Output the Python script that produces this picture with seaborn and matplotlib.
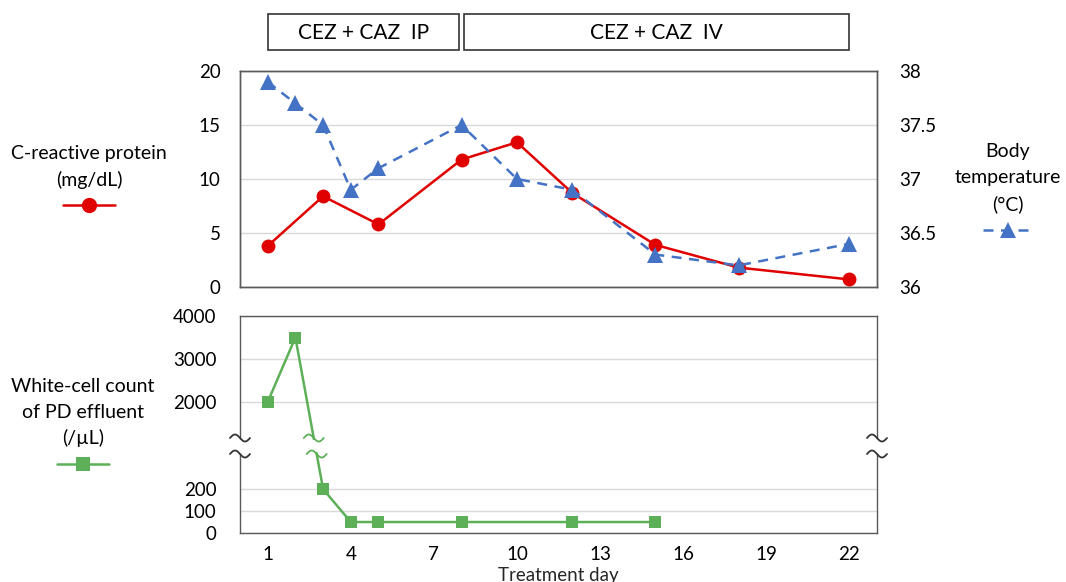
import matplotlib
matplotlib.use("Agg")
import matplotlib.pyplot as plt
import matplotlib.transforms as mtransforms
from matplotlib.lines import Line2D
from matplotlib.patches import Rectangle
import numpy as np
import pandas as pd
import seaborn as sns

# values
crp_days = [1, 3, 5, 8, 10, 12, 15, 18, 22]
crp_values = [3.8, 8.4, 5.8, 11.8, 13.4, 8.7, 3.9, 1.8, 0.7]

temp_days = [1, 2, 3, 4, 5, 8, 10, 12, 15, 18, 22]
temp_values = [37.9, 37.7, 37.5, 36.9, 37.1, 37.5, 37.0, 36.9, 36.3, 36.2, 36.4]

wbc_days = [1, 2, 3, 4, 5, 8, 12, 15]
wbc_values = [2000, 3500, 200, 50, 50, 50, 50, 50]

x_labels = [1, 4, 7, 10, 13, 16, 19, 22]
therapy_labels = ["CEZ + CAZ  IP", "CEZ + CAZ  IV"]
therapy_spans = [(1, 7.9), (8.1, 22)]

RED = "#E00000"
BLUE = "#4472C4"
GREEN = "#5DB058"
SPINE = "#595959"
GRID = "#D9D9D9"

sns.set_style("white")
plt.rcParams["font.family"] = ["Lato", "DejaVu Sans"]
plt.rcParams["font.size"] = 13
plt.rcParams["text.color"] = "black"
plt.rcParams["xtick.color"] = "black"
plt.rcParams["ytick.color"] = "black"

W, H = 1066, 582
fig = plt.figure(figsize=(W / 100, H / 100), dpi=100)


def box(top, bottom):
    return [240 / W, 1 - bottom / H, (877 - 240) / W, (bottom - top) / H]


ax = fig.add_axes(box(71, 287))
ax_hi = fig.add_axes(box(316, 438))
ax_lo = fig.add_axes(box(454, 533))
# one axis over the whole broken panel, so the line runs straight across the gap
ax_w = fig.add_axes(box(316, 533))

crp = pd.DataFrame({"day": crp_days, "crp": crp_values})
temp = pd.DataFrame({"day": temp_days, "temp": temp_values})
wbc = pd.DataFrame({"day": wbc_days, "wbc": wbc_values})

# top panel
sns.lineplot(data=crp, x="day", y="crp", ax=ax, color=RED, marker="o",
             markersize=10, markeredgewidth=0, linewidth=1.8, zorder=3)
ax2 = ax.twinx()
ax2.set_position(ax.get_position())
sns.lineplot(data=temp, x="day", y="temp", ax=ax2, color=BLUE, marker="^",
             markersize=11, markeredgewidth=0, linewidth=1.8,
             linestyle=(0, (4, 3)), zorder=3)

ax.set_ylim(0, 20)
ax.set_yticks([0, 5, 10, 15, 20])
ax2.set_ylim(36, 38)
ax2.set_yticks([36, 36.5, 37, 37.5, 38])
ax2.set_yticklabels(["36", "36.5", "37", "37.5", "38"])

# bottom panel (broken axis): two frames for grid / ticks
lo_top, hi_bot = 360, 1163
ax_hi.set_ylim(hi_bot, 4000)
ax_hi.set_yticks([2000, 3000, 4000])
ax_lo.set_ylim(0, lo_top)
ax_lo.set_yticks([0, 100, 200])

# piecewise scale: 0..360 -> 0..79 px, gap 16 px, 1163..4000 -> 95..217 px
brk_v = [0, lo_top, hi_bot, 4000]
brk_p = [0, 79, 95, 217]


def fwd(v):
    return np.interp(v, brk_v, brk_p)


def inv(p):
    return np.interp(p, brk_p, brk_v)


ax_w.set_yscale("function", functions=(fwd, inv))
sns.lineplot(data=wbc, x="day", y="wbc", ax=ax_w, color=GREEN, marker="s",
             markersize=9, markeredgewidth=0, linewidth=1.8, zorder=3)
ax_w.set_ylim(0, 4000)
ax_w.patch.set_alpha(0)
ax_w.set_axis_off()

for a in (ax, ax2, ax_hi, ax_lo, ax_w):
    a.set_xlim(0, 23)
    a.set_xlabel("")
    a.set_ylabel("")

for a in (ax, ax2, ax_hi, ax_lo):
    for s in a.spines.values():
        s.set_color(SPINE)
        s.set_linewidth(1.0)
        s.set_visible(True)
    a.tick_params(axis="y", length=0, labelsize=13.5, pad=14)
    a.tick_params(axis="x", direction="out", length=5, color=SPINE, width=1,
                  labelsize=13.5, pad=4)

for a in (ax, ax_hi, ax_lo):
    a.set_xticks(range(0, 24))
    a.yaxis.grid(True, color=GRID, linewidth=1)
    a.set_axisbelow(True)

ax.set_xticklabels([])
ax2.tick_params(axis="x", length=0)
ax2.tick_params(axis="y", pad=16)
ax_hi.tick_params(axis="x", length=0, labelbottom=False)
ax_hi.tick_params(axis="y", pad=17)
ax_lo.tick_params(axis="y", pad=17)
ax_hi.spines["bottom"].set_visible(False)
ax_lo.spines["top"].set_visible(False)
ax_lo.set_xticklabels([str(d) if d in x_labels else "" for d in range(0, 24)])
ax_lo.set_xlabel("Treatment day", fontsize=13.5, labelpad=3)

# blank band where the axis is broken
fig.add_artist(Rectangle((241 / W, 1 - 452 / H), 635 / W, 12 / H,
                         transform=fig.transFigure, facecolor="white",
                         edgecolor="none", zorder=5))


def wave(xc, yc, color, w=20, a=3.5):
    t = np.linspace(-1, 1, 40)
    xs = (xc + t * w / 2) / W
    ys = 1 - yc / H + a * np.sin(-t * np.pi) / H
    fig.add_artist(Line2D(xs, ys, color=color, linewidth=1.3, zorder=6,
                          transform=fig.transFigure))


for y in (438, 454):
    wave(240, y, "#333333")
    wave(877, y, "#333333")


# break marks on the line where it crosses the gap
def crossing(y_px):
    p0 = ax_w.transData.transform((wbc_days[1], wbc_values[1]))
    p1 = ax_w.transData.transform((wbc_days[2], wbc_values[2]))
    yd = H - y_px
    f = (yd - p0[1]) / (p1[1] - p0[1])
    return p0[0] + f * (p1[0] - p0[0])


for y in (438, 454):
    wave(crossing(y), y, GREEN)

# therapy boxes
trans = mtransforms.blended_transform_factory(ax.transData, fig.transFigure)
for label, (x0, x1) in zip(therapy_labels, therapy_spans):
    rect = Rectangle((x0, 1 - 50 / H), x1 - x0, 36 / H, transform=trans,
                     fill=False, edgecolor="#333333", linewidth=1.2,
                     clip_on=False)
    fig.add_artist(rect)
    ax.text((x0 + x1) / 2, 1 - 33 / H, label, transform=trans, ha="center",
            va="center", fontsize=15)


# side labels with legend glyphs
def side_label(xc, lines, y0, step, color, marker, ms, ls, glyph_y, half):
    for i, line in enumerate(lines):
        fig.text(xc / W, 1 - (y0 + i * step) / H, line, ha="center",
                 va="center", fontsize=14)
    fig.add_artist(Line2D([(xc - half) / W, xc / W, (xc + half) / W],
                          [1 - glyph_y / H] * 3, color=color, marker=marker,
                          markersize=ms, markeredgewidth=0, markevery=[1],
                          linestyle=ls, linewidth=1.8,
                          transform=fig.transFigure))


side_label(89, ["C-reactive protein", "(mg/dL)"], 153, 27, RED, "o", 11,
           "-", 205, 26)
side_label(1008, ["Body", "temperature", "(°C)"], 152, 26, BLUE, "^", 12,
           (0, (4, 3)), 230, 25)
side_label(83, ["White-cell count", "of PD effluent", "(/µL)"], 386, 26,
           GREEN, "s", 10, "-", 464, 26)

plt.savefig("out.png", dpi=100)
